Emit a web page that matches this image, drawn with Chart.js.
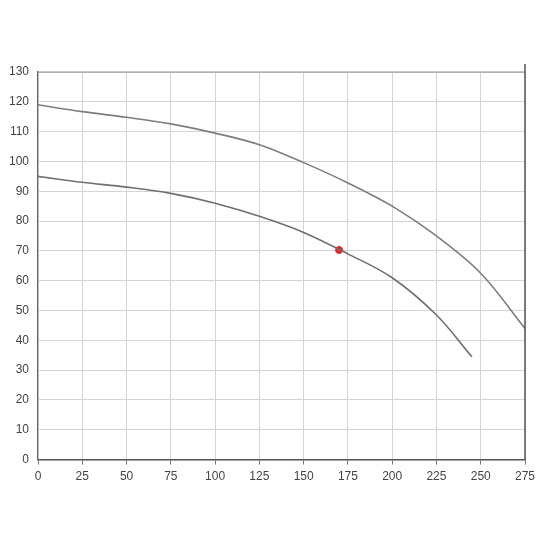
<!DOCTYPE html>
<html>
<head>
<meta charset="utf-8">
<script src="https://cdn.jsdelivr.net/npm/chart.js@4"></script>
<style>
  html, body { margin: 0; padding: 0; background: #fff; }
  #wrap { width: 550px; height: 550px; }
</style>
</head>
<body>
<div id="wrap"><canvas id="myChart" width="550" height="550"></canvas></div>
<script>
// flow values
var upperFlow = [0, 25, 50, 75, 100, 125, 150, 175, 200, 225, 250, 275];
var upperHead = [119, 116.7, 114.8, 112.6, 109.5, 105.6, 99.6, 92.8, 85, 75, 62.5, 44];
var lowerFlow = [0, 25, 50, 75, 100, 125, 150, 175, 200, 225, 245];
var lowerHead = [95, 93, 91.4, 89.3, 86, 81.6, 76.2, 69, 61, 48.5, 34.5];
var markFlow = [170];
var markHead = [70.3];
var xTicks = [0, 25, 50, 75, 100, 125, 150, 175, 200, 225, 250, 275];
var yTicks = [0, 10, 20, 30, 40, 50, 60, 70, 80, 90, 100, 110, 120, 130];

function pairs(xs, ys) {
    return xs.map(function (x, i) { return { x: x, y: ys[i] }; });
}

// box round the plot (Chart.js only draws left and bottom borders)
var frame = {
    id: 'frame',
    afterDraw: function (chart) {
        var a = chart.chartArea, c = chart.ctx;
        c.save();
        c.strokeStyle = '#8a8a8a';
        c.lineWidth = 1;
        c.beginPath();
        c.moveTo(a.left, a.top);
        c.lineTo(a.right, a.top);
        c.stroke();
        c.strokeStyle = '#555';
        c.lineWidth = 1.5;
        c.beginPath();
        c.moveTo(a.right, a.top - 8);
        c.lineTo(a.right, a.bottom);
        c.stroke();
        c.restore();
    }
};

var ctx = document.getElementById('myChart').getContext('2d');
var chart = new Chart(ctx, {
    type: 'scatter',
    data: {
        datasets: [{
            label: 'upper',
            data: pairs(upperFlow, upperHead),
            showLine: true,
            borderColor: '#7d7d7d',
            borderWidth: 1.6,
            pointRadius: 0,
            tension: 0.35
        }, {
            label: 'lower',
            data: pairs(lowerFlow, lowerHead),
            showLine: true,
            borderColor: '#6f6f6f',
            borderWidth: 1.6,
            pointRadius: 0,
            tension: 0.35
        }, {
            label: 'mark',
            data: pairs(markFlow, markHead),
            backgroundColor: '#e8262a',
            borderColor: '#e8262a',
            pointRadius: 3.5,
            pointStyle: 'circle'
        }]
    },
    options: {
        responsive: false,
        animation: false,
        layout: { padding: { left: 0, right: 25, top: 72, bottom: 61 } },
        plugins: { legend: { display: false }, tooltip: { enabled: false } },
        scales: {
            x: {
                type: 'linear',
                min: 0,
                max: 275,
                afterBuildTicks: function (ax) { ax.ticks = xTicks.map(function (v) { return { value: v }; }); },
                ticks: { color: '#444', font: { family: 'Liberation Sans', size: 12 }, padding: 5, maxRotation: 0 },
                grid: { color: '#d4d4d4', tickColor: '#777', tickLength: 5 },
                border: { color: '#555', width: 1.5 }
            },
            y: {
                min: 0,
                max: 130,
                afterBuildTicks: function (ax) { ax.ticks = yTicks.map(function (v) { return { value: v }; }); },
                ticks: { color: '#444', font: { family: 'Liberation Sans', size: 12 }, padding: 9 },
                grid: { color: '#d4d4d4', tickLength: 0 },
                border: { color: '#666', width: 1.2 }
            }
        }
    },
    plugins: [frame]
});
</script>
</body>
</html>
